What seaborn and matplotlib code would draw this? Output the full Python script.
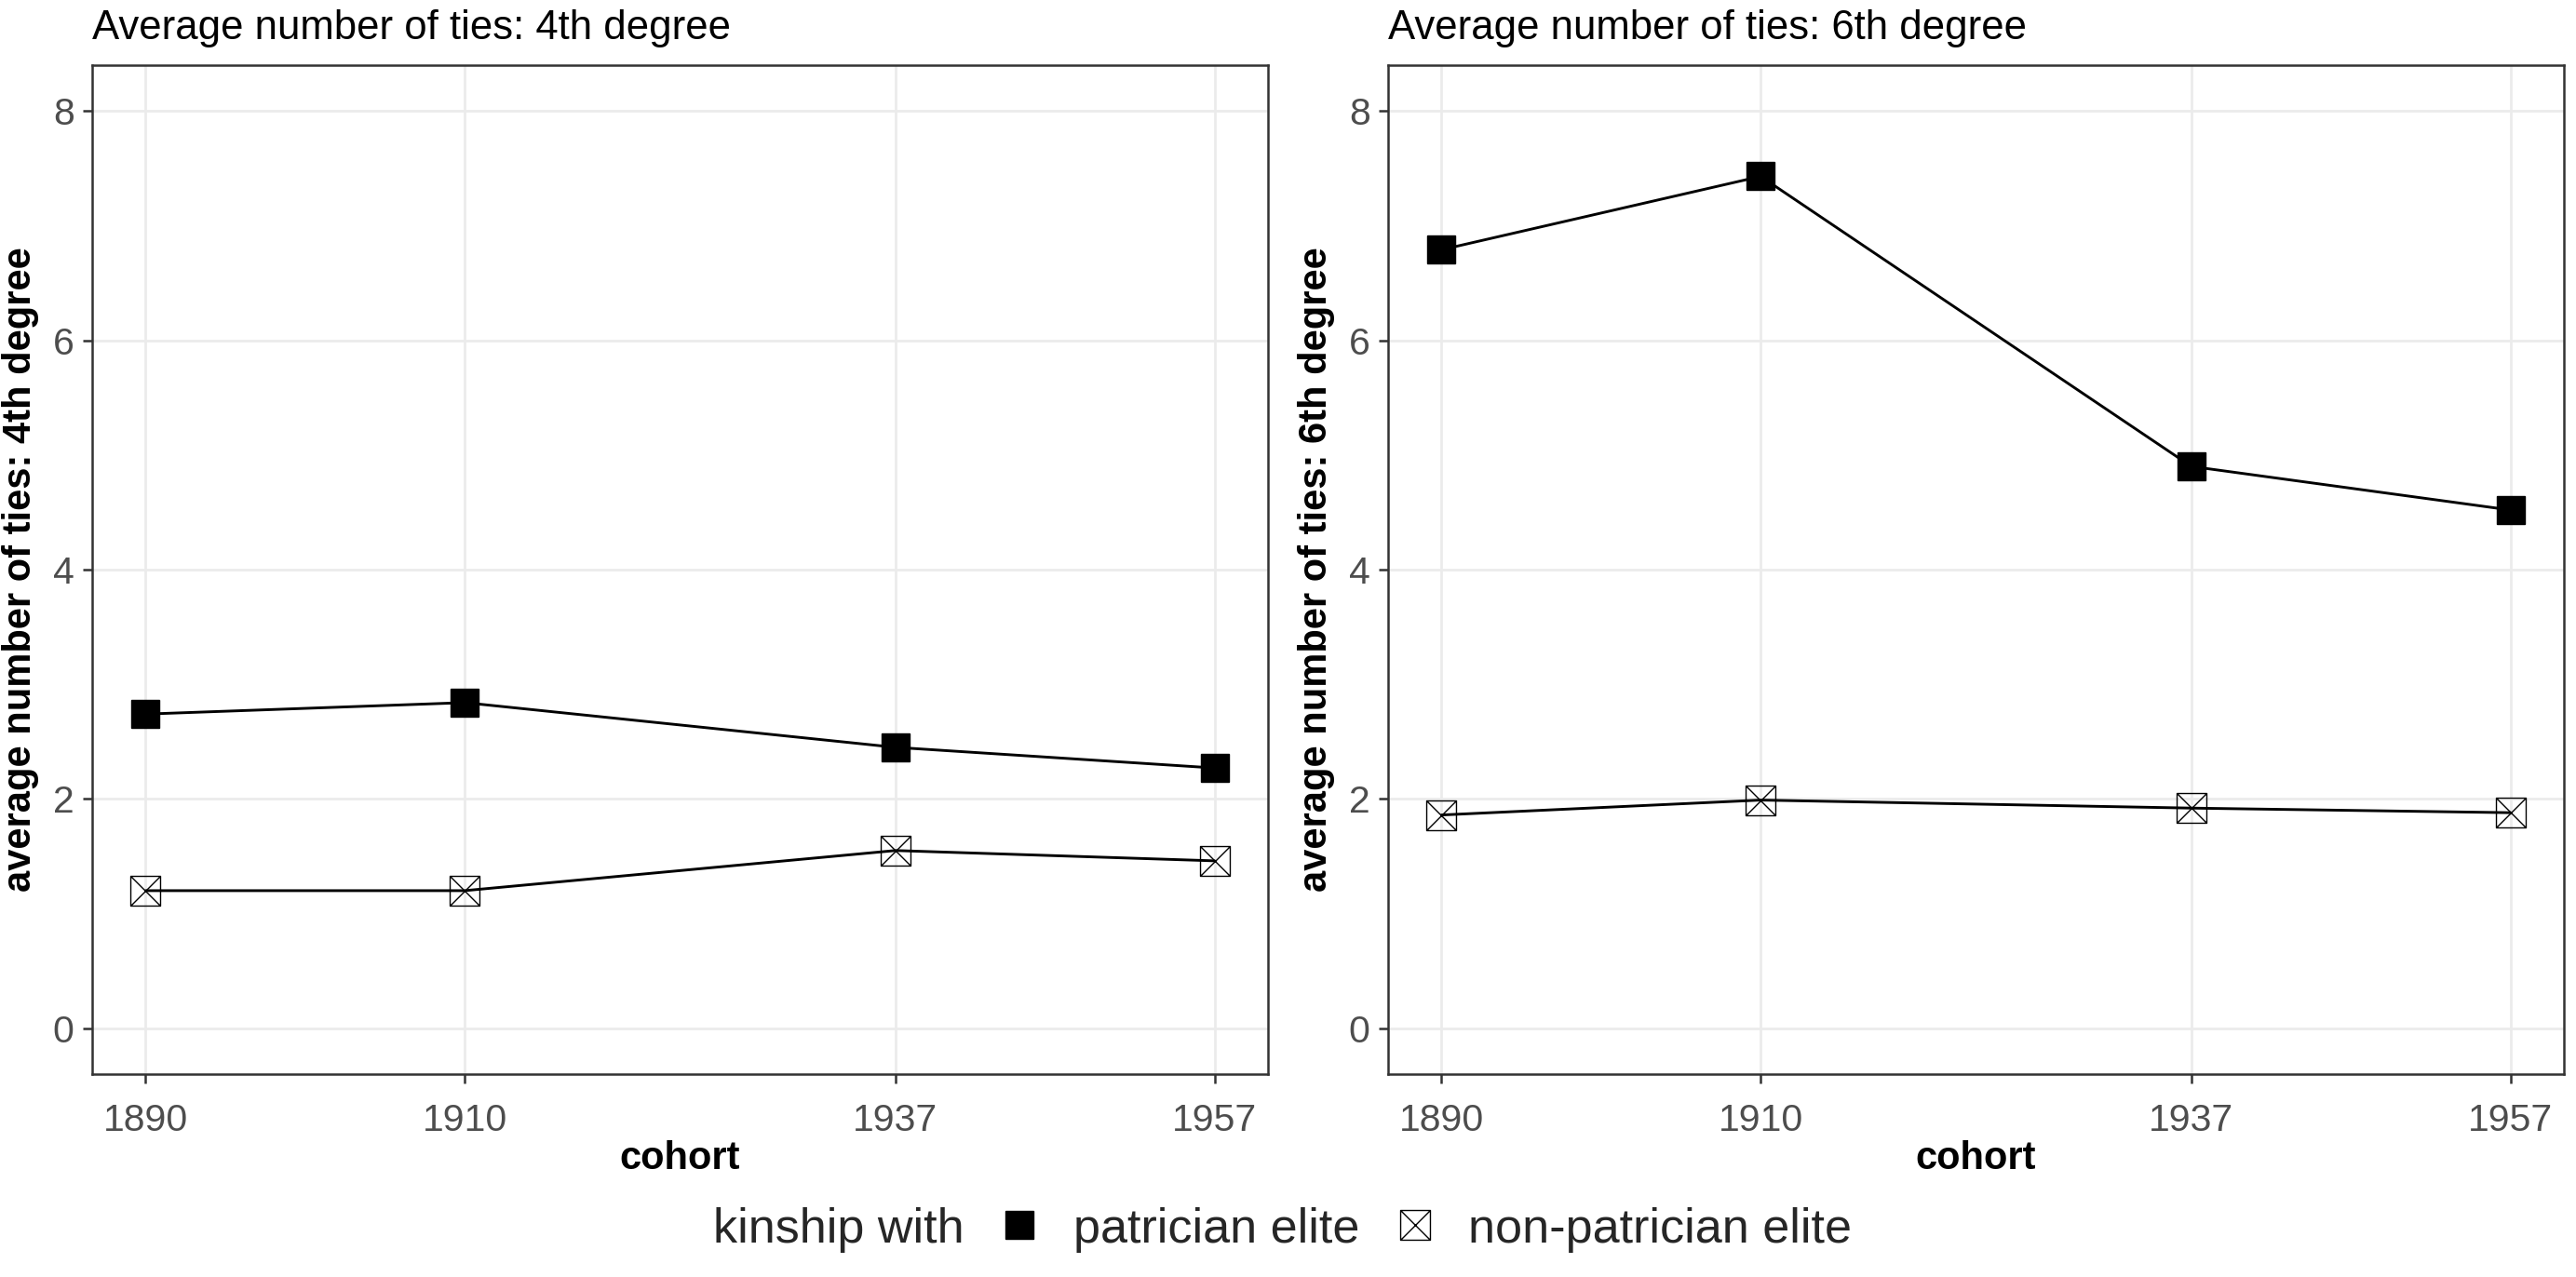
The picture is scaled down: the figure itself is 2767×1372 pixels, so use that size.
import numpy as np
import pandas as pd
import seaborn as sns
import matplotlib.pyplot as plt
from matplotlib.path import Path
from matplotlib.lines import Line2D

#####################
### Data
#####################

cohorts = [1890, 1910, 1937, 1957]
groups = ["patrician elite", "non-patrician elite"]
degrees = ["4th", "6th"]

patrician_4th = [2.74, 2.84, 2.45, 2.27]
nonpatrician_4th = [1.20, 1.20, 1.55, 1.46]
patrician_6th = [6.79, 7.43, 4.90, 4.52]
nonpatrician_6th = [1.86, 1.99, 1.92, 1.88]

yticks = [0, 2, 4, 6, 8]

rows = []
for deg, pat, non in zip(degrees, [patrician_4th, patrician_6th], [nonpatrician_4th, nonpatrician_6th]):
    for c, p, n in zip(cohorts, pat, non):
        rows.append({"degree": deg, "cohort": c, "kinship": groups[0], "ties": p})
        rows.append({"degree": deg, "cohort": c, "kinship": groups[1], "ties": n})
df = pd.DataFrame(rows)

#####################
### Style
#####################

sns.set_style("white")
plt.rcParams['font.family'] = ['Liberation Sans', 'DejaVu Sans']

# square with a cross inside (ggplot shape 7)
box_x = Path([(-1, -1), (1, -1), (1, 1), (-1, 1), (-1, -1),
              (-1, -1), (1, 1), (-1, 1), (1, -1)],
             [Path.MOVETO, Path.LINETO, Path.LINETO, Path.LINETO, Path.CLOSEPOLY,
              Path.MOVETO, Path.LINETO, Path.MOVETO, Path.LINETO])

marker_kws = {
    groups[0]: dict(marker='s', markersize=22, markerfacecolor='black',
                    markeredgecolor='black', markeredgewidth=1),
    groups[1]: dict(marker=box_x, markersize=23, markerfacecolor='none',
                    markeredgecolor='black', markeredgewidth=1),
}

W, H = 2767, 1372
fig = plt.figure(figsize=(W / 100, H / 100), dpi=100)

panel_left = [99, 1491]
panel_w, panel_b, panel_h = 1263, 218, 1084

#####################
### Panels
#####################

for i, deg in enumerate(degrees):
    ax = fig.add_axes([panel_left[i] / W, panel_b / H, panel_w / W, panel_h / H])
    for g in groups:
        sub = df[(df["degree"] == deg) & (df["kinship"] == g)]
        sns.lineplot(data=sub, x="cohort", y="ties", ax=ax, color="black",
                     linewidth=2.1, errorbar=None, **marker_kws[g])

    ax.set_xlim(1886.65, 1960.35)
    ax.set_ylim(-0.4, 8.4)
    ax.set_xticks(cohorts)
    ax.set_yticks(yticks)
    ax.grid(True, color="#EBEBEB", linewidth=2)
    ax.set_axisbelow(True)
    for s in ax.spines.values():
        s.set_color("#333333")
        s.set_linewidth(1.8)
    ax.tick_params(bottom=True, left=True, direction="out", length=7, width=1.8,
                   color="#333333", labelsize=29.5, labelcolor="#4D4D4D")
    ax.tick_params(axis="x", pad=15)
    ax.tick_params(axis="y", pad=7)

    ax.set_xlabel("cohort", fontsize=30, fontweight="bold", color="black")
    ax.set_ylabel("average number of ties: " + deg + " degree", fontsize=30,
                  fontweight="bold", color="black")
    ax.xaxis.set_label_coords(0.5, -0.0655)
    ax.yaxis.set_label_coords(-0.0451, 0.5)
    ax.set_title("Average number of ties: " + deg + " degree", loc="left",
                 fontsize=31.5, pad=20, color="black")

#####################
### Legend
#####################

handles = [Line2D([], [], linestyle="none")]
for g in groups:
    handles.append(Line2D([], [], linestyle="none", color="black", **marker_kws[g]))
labels = ["kinship with"] + groups

fig.legend(handles, labels, loc="center left", bbox_to_anchor=(693 / W, 1 - 1321 / H),
           ncol=3, frameon=False, fontsize=37.5, handlelength=0.6,
           handletextpad=0.8, columnspacing=0.85, borderpad=0, borderaxespad=0)

fig.savefig("out.png", dpi=100)
